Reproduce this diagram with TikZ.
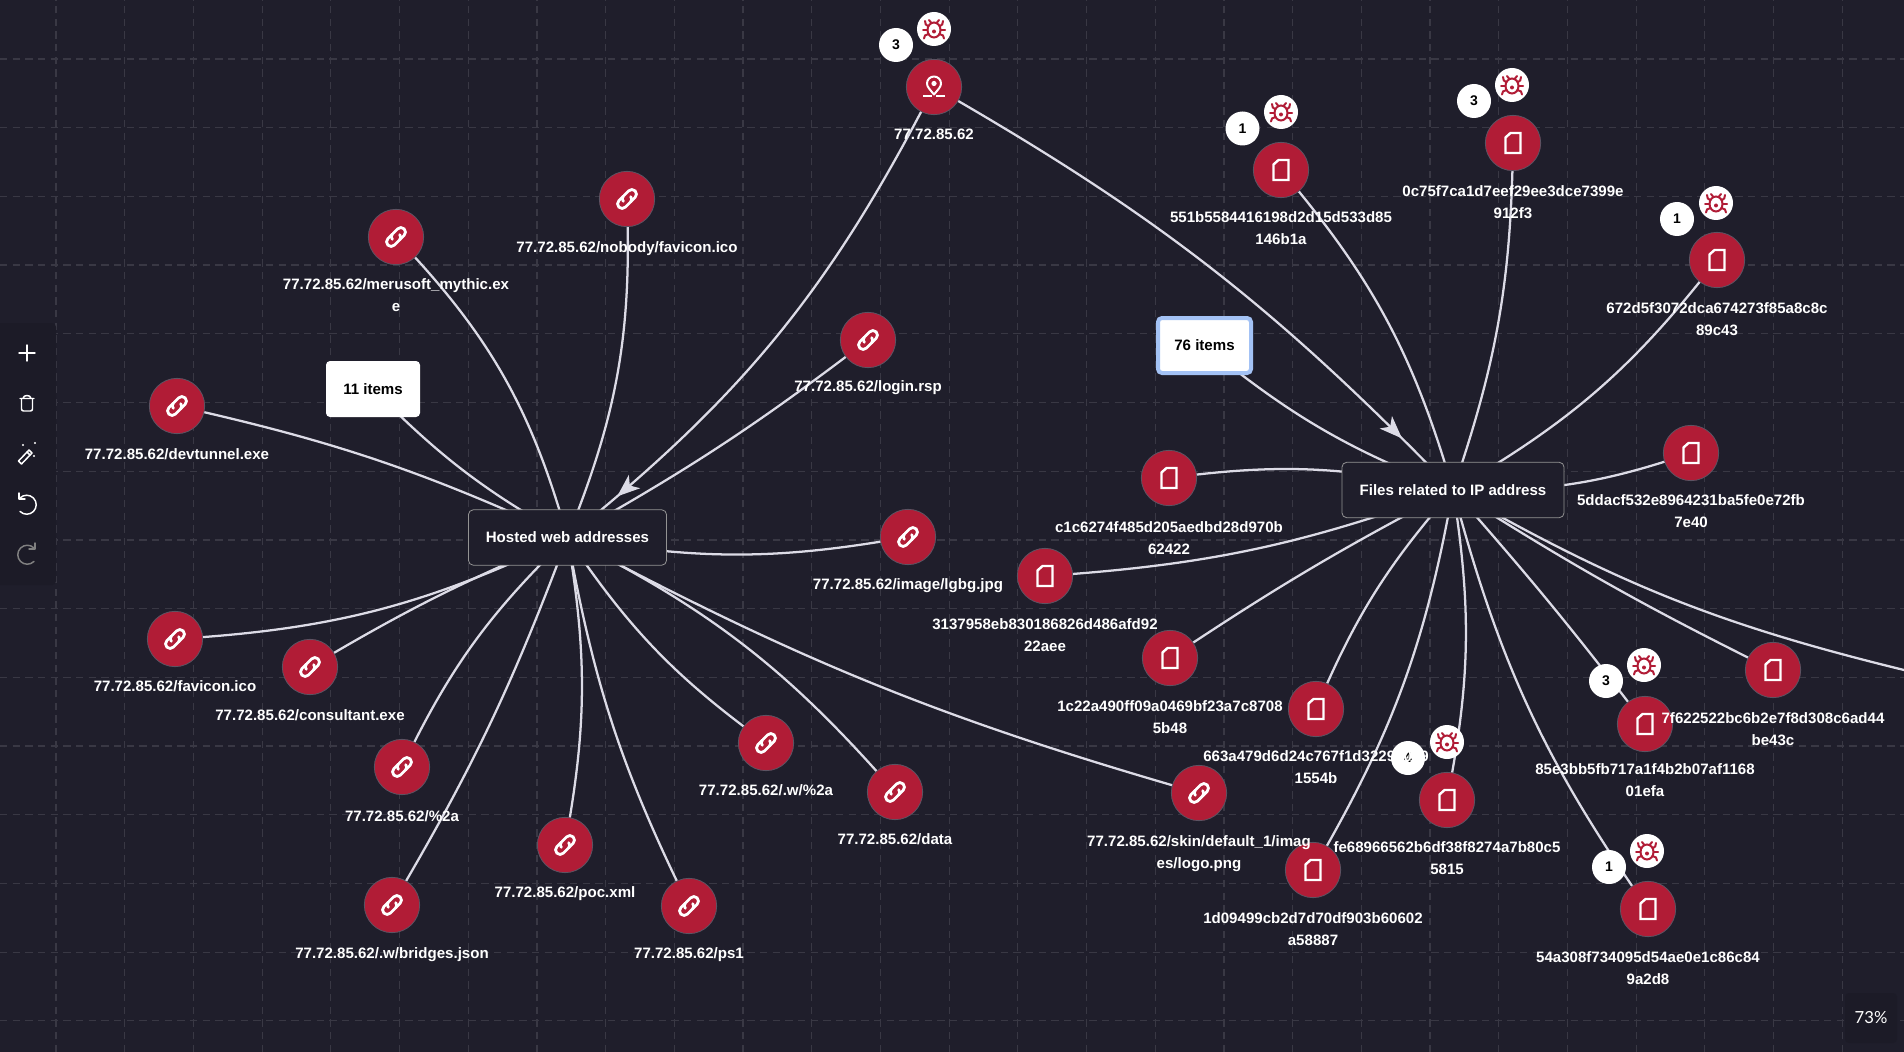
\documentclass[tikz,border=0pt]{standalone}
\usepackage{fontspec}
\setmainfont{Liberation Sans}
\newfontfamily\zoomfont{Lato}
\usetikzlibrary{arrows.meta,decorations.markings}
\definecolor{canvasbg}{HTML}{1F1E2B}
\definecolor{panelbg}{HTML}{1C1B27}
\definecolor{gridcol}{HTML}{393844}
\definecolor{edgecol}{HTML}{DCDBE6}
\definecolor{crimson}{HTML}{B11C36}
\definecolor{ringcol}{HTML}{5C5362}
\definecolor{focuscol}{HTML}{A3C2F5}
\pgfdeclarelayer{under}
\pgfdeclarelayer{edges}
\pgfsetlayers{under,edges,main}
\tikzset{
  x=0.75pt,y=0.75pt,
  gridline/.style={gridcol,line width=0.9pt,dash pattern=on 5.5pt off 4pt},
  edge/.style={edgecol,line width=1.7pt},
  arrowedge/.style={edge,postaction={decorate},decoration={markings,
    mark=at position #1 with {\arrow[edgecol]{Stealth[length=17pt,width=13pt,inset=4.5pt]}}}},
  leaf/.style={circle,fill=crimson,draw=ringcol,line width=0.6pt,minimum size=41.5pt,inner sep=0pt},
  linknode/.style={leaf,path picture={\pic at (path picture bounding box.center) {linkicon};}},
  filenode/.style={leaf,path picture={\pic at (path picture bounding box.center) {docicon};}},
  ipnode/.style={leaf,path picture={\pic at (path picture bounding box.center) {pinicon};}},
  bugbadge/.style={circle,fill=white,minimum size=25.5pt,inner sep=0pt,
    path picture={\pic at (path picture bounding box.center) {bugicon};}},
  countbadge/.style={circle,fill=white,minimum size=25.5pt,inner sep=0pt,text=black,
    font=\bfseries\fontsize{10.5}{12}\selectfont},
  leaflabel/.style={text=white,inner sep=0pt,align=center,font=\bfseries\fontsize{11.3}{16.5}\selectfont},
  hub/.style={draw=gray!85!white,line width=0.6pt,fill=canvasbg,rounded corners=3.5pt,text=white,
    minimum width=#1,minimum height=41.5pt,inner sep=0pt,font=\bfseries\fontsize{11.3}{14}\selectfont},
  groupbox/.style={fill=white,rounded corners=3pt,text=black,minimum width=#1,minimum height=42pt,
    inner sep=0pt,font=\bfseries\fontsize{11.3}{14}\selectfont},
  toolstroke/.style={white,line width=1.1pt,line cap=round,line join=round},
  docicon/.pic={
    \draw[white,line width=1.8pt,miter limit=2] (-7.5,-10) -- (7.5,-10) -- (7.5,10) -- (-2.5,10) -- (-7.5,5.5) -- cycle;
  },
  linkicon/.pic={
    \begin{scope}[rotate=45,scale=1.15,white,line width=2.1pt,line cap=round]
      \draw (-0.5,4) -- (-6,4) arc[start angle=90,delta angle=180,radius=4] -- (0.5,-4) arc[start angle=-90,delta angle=90,radius=3.2];
      \draw (0.5,-4) ++(0,8) -- (6,4) arc[start angle=90,delta angle=-180,radius=4] -- (0.5,-4) ++(-1,8) arc[start angle=90,delta angle=90,radius=3.2];
    \end{scope}
  },
  pinicon/.pic={
    \draw[white,line width=1.5pt,line join=round] (0,-7.5) .. controls (-4,-2.5) and (-7,0) .. (-7,3.5)
      arc[start angle=180,delta angle=-180,radius=7] .. controls (7,0) and (4,-2.5) .. (0,-7.5) -- cycle;
    \fill[white] (0,3.5) circle[radius=2.6];
    \draw[white,line width=1.5pt] (-11,-9.5) -- (-2,-9.5) (2,-9.5) -- (11,-9.5);
  },
  bugicon/.pic={
    \begin{scope}[crimson,line width=1.5pt,line cap=round]
      \draw (0,-1) ellipse[x radius=6.5,y radius=7.5];
      \draw (-3,6.5) -- (-5,9) (3,6.5) -- (5,9);
      \draw (-6,3) .. controls (-8,3.5) and (-9,5) .. (-9,8) (6,3) .. controls (8,3.5) and (9,5) .. (9,8);
      \draw (-6.5,-1) -- (-11,-1) (6.5,-1) -- (11,-1);
      \draw (-5.5,-5) -- (-9,-6.5) -- (-10,-9.5) (5.5,-5) -- (9,-6.5) -- (10,-9.5);
      \fill (0,-2.5) circle[radius=2];
    \end{scope}
  },
  plusicon/.pic={\draw[toolstroke] (-8,0) -- (8,0) (0,-8) -- (0,8);},
  trashicon/.pic={
    \draw[toolstroke,rounded corners=1.5pt] (-5.5,4.5) -- (-5.5,-8) -- (5.5,-8) -- (5.5,4.5);
    \draw[toolstroke] (-7,4.5) -- (7,4.5) (-4,4.5) .. controls (-4,8.5) and (4,8.5) .. (4,4.5);
  },
  wandicon/.pic={
    \draw[toolstroke] (-8.5,-8) -- (-5.5,-11) -- (5,0) -- (2,3) -- cycle;
    \draw[toolstroke] (0,1) -- (3,-2);
    \fill[white] (-4,8) circle[radius=1.2] (8,10) circle[radius=1.2] (7,-3) circle[radius=1.2];
  },
  undoicon/.pic={
    \draw[#1,line width=1.1pt,line cap=round,line join=round] (-7,5) arc[start angle=135,delta angle=-270,radius=9.5];
    \draw[#1,line width=1.1pt,line cap=round,line join=round] (-8,10) -- (-8,4) -- (-2,4);
  },
}
\begin{document}
\begin{tikzpicture}
\useasboundingbox (0,0) rectangle (1904,-1052);
\begin{pgfonlayer}{under}
\fill[canvasbg] (0,0) rectangle (1904,-1052);
\begin{scope}[shift={(56,-59)}]
\draw[gridline,step=68.7] (-56,-993) grid (1848,59);
\end{scope}
\fill[panelbg,rounded corners=3pt] (-10,-323) rectangle (56,-585);
\fill[panelbg,rounded corners=3pt] (1845,-993) rectangle (1897,-1043);
\end{pgfonlayer}
% hubs and group boxes
\node[hub=148.5pt] (hosted) at (567.5,-537.5) {Hosted web addresses};
\node[hub=166.5pt] (files) at (1453,-490) {Files related to IP address};
\node[groupbox=70.5pt] (elevenbox) at (373,-389) {11 items};
\node[groupbox=69.75pt,draw=focuscol,line width=3pt,minimum height=41.25pt] (seventybox) at (1204.5,-345.5) {76 items};
% ip address
\node[ipnode] (ip) at (934,-87) {};
\node[bugbadge] (ipbug) at (934,-29) {};
\node[countbadge] (ipcount) at (896,-45) {3};
% hosted web addresses
\node[linknode] (merusoft) at (396,-237) {};
\node[linknode] (nobody) at (627,-199) {};
\node[linknode] (login) at (868,-340) {};
\node[linknode] (devtunnel) at (177,-406) {};
\node[linknode] (lgbg) at (908,-537) {};
\node[linknode] (favicon) at (175,-639) {};
\node[linknode] (consultant) at (310,-667) {};
\node[linknode] (pcta) at (402,-767) {};
\node[linknode] (wpct) at (766,-743) {};
\node[linknode] (data) at (895,-792) {};
\node[linknode] (skin) at (1199,-793) {};
\node[linknode] (poc) at (565,-845) {};
\node[linknode] (psone) at (689,-906) {};
\node[linknode] (bridges) at (392,-905) {};
% files
\node[filenode] (fa) at (1281,-170) {};
\node[bugbadge] (fabug) at (1281,-112) {};
\node[countbadge] (facount) at (1242.5,-128.5) {1};
\node[filenode] (fb) at (1513,-143) {};
\node[bugbadge] (fbbug) at (1512,-85) {};
\node[countbadge] (fbcount) at (1474,-101) {3};
\node[filenode] (fc) at (1717,-260) {};
\node[bugbadge] (fcbug) at (1716,-203) {};
\node[countbadge] (fccount) at (1677,-219) {1};
\node[filenode] (fd) at (1691,-453) {};
\node[filenode] (fe) at (1169,-478) {};
\node[filenode] (ff) at (1045,-576) {};
\node[filenode] (fg) at (1170,-658) {};
\node[filenode] (fh) at (1316,-709) {};
\node[filenode] (fi) at (1447,-800) {};
\node[bugbadge] (fibug) at (1447,-742) {};
\node[countbadge] (ficount) at (1408,-758) {4};
\node[filenode] (fj) at (1313,-870) {};
\node[filenode] (fk) at (1645,-724) {};
\node[bugbadge] (fkbug) at (1644,-665) {};
\node[countbadge] (fkcount) at (1606,-681) {3};
\node[filenode] (fl) at (1773,-670) {};
\node[filenode] (fm) at (1648,-909) {};
\node[bugbadge] (fmbug) at (1647,-851) {};
\node[countbadge] (fmcount) at (1609,-867) {1};
\coordinate (offright) at (1904,-670);
% labels
\node[leaflabel] (iplabel) at (934,-134) {77.72.85.62};
\node[leaflabel] (merusoftlabel) at (396,-295) {77.72.85.62/merusoft\_mythic.ex\\e};
\node[leaflabel] (nobodylabel) at (627,-249) {77.72.85.62/nobody/favicon.ico};
\node[leaflabel] (loginlabel) at (868,-388) {77.72.85.62/login.rsp};
\node[leaflabel] (devtunnellabel) at (177,-454) {77.72.85.62/devtunnel.exe};
\node[leaflabel] (lgbglabel) at (908,-586) {77.72.85.62/image/lgbg.jpg};
\node[leaflabel] (faviconlabel) at (175,-686) {77.72.85.62/favicon.ico};
\node[leaflabel] (consultantlabel) at (310,-715) {77.72.85.62/consultant.exe};
\node[leaflabel] (pctalabel) at (402,-816) {77.72.85.62/\%2a};
\node[leaflabel] (wpctlabel) at (766,-790) {77.72.85.62/.w/\%2a};
\node[leaflabel] (datalabel) at (895,-839) {77.72.85.62/data};
\node[leaflabel] (skinlabel) at (1199,-854) {77.72.85.62/skin/default\_1/imag\\es/logo.png};
\node[leaflabel] (poclabel) at (565,-894) {77.72.85.62/poc.xml};
\node[leaflabel] (psonelabel) at (689,-955) {77.72.85.62/ps1};
\node[leaflabel] (bridgeslabel) at (392,-955) {77.72.85.62/.w/bridges.json};
\node[leaflabel] (falabel) at (1281,-228) {551b5584416198d2d15d533d85\\146b1a};
\node[leaflabel] (fblabel) at (1513,-202.5) {0c75f7ca1d7eef29ee3dce7399e\\912f3};
\node[leaflabel] (fclabel) at (1717,-319) {672d5f3072dca674273f85a8c8c\\89c43};
\node[leaflabel] (fdlabel) at (1691,-511) {5ddacf532e8964231ba5fe0e72fb\\7e40};
\node[leaflabel] (felabel) at (1169,-538) {c1c6274f485d205aedbd28d970b\\62422};
\node[leaflabel] (fflabel) at (1045,-635) {3137958eb830186826d486afd92\\22aee};
\node[leaflabel] (fglabel) at (1170,-717) {1c22a490ff09a0469bf23a7c8708\\5b48};
\node[leaflabel] (fhlabel) at (1316,-767.5) {663a479d6d24c767f1d3229a0a9\\1554b};
\node[leaflabel] (filabel) at (1447,-858) {fe68966562b6df38f8274a7b80c5\\5815};
\node[leaflabel] (fjlabel) at (1313,-929) {1d09499cb2d7d70df903b60602\\a58887};
\node[leaflabel] (fklabel) at (1645,-780) {85e3bb5fb717a1f4b2b07af1168\\01efa};
\node[leaflabel] (fllabel) at (1773,-729.5) {7f622522bc6b2e7f8d308c6ad44\\be43c};
\node[leaflabel] (fmlabel) at (1648,-968) {54a308f734095d54ae0e1c86c84\\9a2d8};
% connectors
\begin{pgfonlayer}{edges}
\draw[arrowedge=.89] (ip.center) to[bend left=12] (hosted.center);
\draw[arrowedge=.89] (ip.center) to[bend left=8] (files.center);
\draw[edge] (elevenbox.center) to[bend right=8] (hosted.center);
\draw[edge] (merusoft.center) to[bend left=14] (hosted.center);
\draw[edge] (nobody.center) to[bend left=12] (hosted.center);
\draw[edge] (login.center) to[bend left=4] (hosted.center);
\draw[edge] (devtunnel.center) to[bend left=6] (hosted.center);
\draw[edge] (lgbg.center) to[bend left=10] (hosted.center);
\draw[edge] (favicon.center) to[bend right=11] (hosted.center);
\draw[edge] (consultant.center) to[bend left=4] (hosted.center);
\draw[edge] (pcta.center) to[bend left=10] (hosted.center);
\draw[edge] (bridges.center) to[bend right=5] (hosted.center);
\draw[edge] (poc.center) to[bend right=10] (hosted.center);
\draw[edge] (psone.center) to[bend left=8] (hosted.center);
\draw[edge] (wpct.center) to[bend left=10] (hosted.center);
\draw[edge] (data.center) to[bend right=11] (hosted.center);
\draw[edge] (skin.center) to[bend left=6] (hosted.center);
\draw[edge] (seventybox.center) to[bend right=9] (files.center);
\draw[edge] (fa.center) to[bend left=12] (files.center);
\draw[edge] (fb.center) to[bend left=9] (files.center);
\draw[edge] (fc.center) to[bend left=11] (files.center);
\draw[edge] (fd.center) to[bend left=10] (files.center);
\draw[edge] (fe.center) to[bend left=10] (files.center);
\draw[edge] (ff.center) to[bend right=8] (files.center);
\draw[edge] (fg.center) to[bend left=3] (files.center);
\draw[edge] (fh.center) to[bend left=9] (files.center);
\draw[edge] (fi.center) to[bend right=10] (files.center);
\draw[edge] (fj.center) to[bend right=10] (files.center);
\draw[edge] (fk.center) to[bend right=2] (files.center);
\draw[edge] (fl.center) to[bend left=3] (files.center);
\draw[edge] (fm.center) to[bend left=10] (files.center);
\draw[edge] (offright) to[bend left=8] (files.center);
\end{pgfonlayer}
% tool panel
\pic at (27,-353) {plusicon};
\pic at (27,-403) {trashicon};
\pic at (27,-453) {wandicon};
\pic at (27,-503) {undoicon=white};
\pic[xscale=-1] at (27,-553) {undoicon=gray};
\node[text=white,inner sep=0pt,font=\zoomfont\fontsize{12.5}{14}\selectfont] (zoomlabel) at (1871,-1018) {73\%};
\end{tikzpicture}
\end{document}
